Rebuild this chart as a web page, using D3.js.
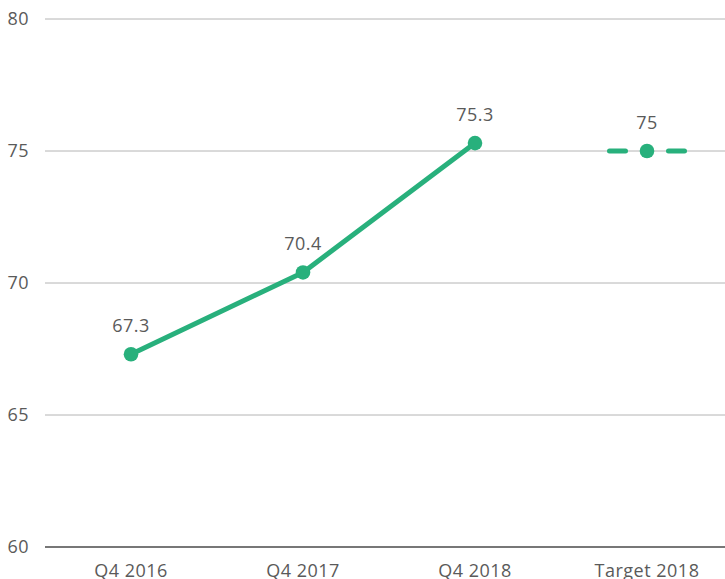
<!DOCTYPE html>
<html>
<head>
<meta charset="utf-8">
<script src="https://cdn.jsdelivr.net/npm/d3@7"></script>
<style>
  body { margin: 0; background: #fff; }
  svg { display: block; font-family: "Open Sans", sans-serif; }
</style>
</head>
<body>
<div id="chart"></div>
<script>
// data
var categories = ["Q4 2016", "Q4 2017", "Q4 2018", "Target 2018"];
var actualValues = [67.3, 70.4, 75.3];
var targetValue = 75;
var yTicks = [60, 65, 70, 75, 80];

var width = 725, height = 579
  ,green = "#28b07c"
  ,textColor = "#5a5a5a";

var svg = d3.select("#chart").append("svg")
    .attr("width", width)
    .attr("height", height)
    .style("font-size", "18px")
    .style("letter-spacing", "0.5px");

var x = d3.scalePoint()
    .domain(categories)
    .range([45, 733])
    .padding(0.5);

var y = d3.scaleLinear()
    .domain([60, 80])
    .range([547, 19]);

// gridlines
svg.append("g")
    .selectAll("line")
    .data(yTicks)
    .join("line")
    .attr("x1", 45)
    .attr("x2", width)
    .attr("y1", d => y(d))
    .attr("y2", d => y(d))
    .attr("stroke", d => d === 60 ? "#777" : "#b4b4b4")
    .attr("stroke-width", d => d === 60 ? 2 : 1);

// y labels
svg.append("g")
    .selectAll("text")
    .data(yTicks)
    .join("text")
    .attr("x", 29)
    .attr("y", d => y(d))
    .attr("dy", "0.35em")
    .attr("text-anchor", "end")
    .attr("fill", textColor)
    .text(d => d);

// x labels
svg.append("g")
    .selectAll("text")
    .data(categories)
    .join("text")
    .attr("x", d => x(d))
    .attr("y", 577)
    .attr("text-anchor", "middle")
    .attr("fill", textColor)
    .text(d => d);

var actual = actualValues.map((v, i) => ({cat: categories[i], value: v}));
var target = {cat: categories[3], value: targetValue};

var line = d3.line()
    .x(d => x(d.cat))
    .y(d => y(d.value));

svg.append("path")
    .datum(actual)
    .attr("d", line)
    .attr("fill", "none")
    .attr("stroke", green)
    .attr("stroke-width", 5)
    .attr("stroke-linejoin", "round");

// target dashes
svg.append("line")
    .attr("x1", x(target.cat) - 37.5)
    .attr("x2", x(target.cat) + 37.5)
    .attr("y1", y(target.value))
    .attr("y2", y(target.value))
    .attr("stroke", green)
    .attr("stroke-width", 5)
    .attr("stroke-linecap", "round")
    .attr("stroke-dasharray", "16,43");

var all = actual.concat([target]);

svg.append("g")
    .selectAll("circle")
    .data(all)
    .join("circle")
    .attr("cx", d => x(d.cat))
    .attr("cy", d => y(d.value))
    .attr("r", 7.3)
    .attr("fill", green);

svg.append("g")
    .selectAll("text")
    .data(all)
    .join("text")
    .attr("x", d => x(d.cat))
    .attr("y", d => y(d.value) - 22)
    .attr("text-anchor", "middle")
    .attr("fill", textColor)
    .text(d => d.value);
</script>
</body>
</html>
